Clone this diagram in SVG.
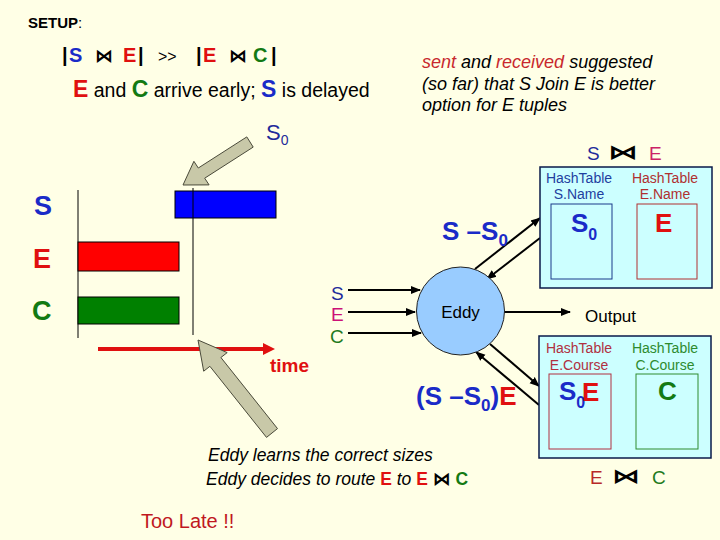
<svg xmlns="http://www.w3.org/2000/svg" width="720" height="540" viewBox="0 0 720 540">
<defs>
<style>
text{font-family:"Liberation Sans",Arial,sans-serif;}
.bt{font-family:"DejaVu Sans",sans-serif;font-weight:bold;}
.b{font-weight:bold;}
.it{font-style:italic;}
.blue{fill:#1A2BC8;}
.red{fill:#E01010;}
.grn{fill:#137A13;}
.navy{fill:#1F2B9B;}
.ht{font-size:14px;text-anchor:middle;}
.conn{stroke:#000;stroke-width:2;fill:none;}
.gray{fill:#C8C8A8;stroke:#4A4A3A;stroke-width:1;}
.outer{fill:#CCFFFF;stroke:#0A1A4A;stroke-width:1.5;}
</style>
<marker id="ah" viewBox="0 0 10 10" refX="9" refY="5" markerWidth="5" markerHeight="5" orient="auto" markerUnits="strokeWidth">
<path d="M0,1 L10,5 L0,9 Z" fill="#000"/>
</marker>
</defs>
<rect width="720" height="540" fill="#FFFFE6"/>

<g id="setup">
<text x="28" y="28" font-size="15"><tspan class="b">SETUP</tspan>:</text>
<text y="62" font-size="20">
<tspan x="62" class="b">|</tspan><tspan x="69" class="b blue">S</tspan><tspan x="95" class="bt" font-size="18">⋈</tspan><tspan x="123" class="b red">E</tspan><tspan x="138" class="b">|</tspan><tspan x="158" font-size="16">&gt;&gt;</tspan><tspan x="196" class="b">|</tspan><tspan x="203" class="b red">E</tspan><tspan x="229" class="bt" font-size="18">⋈</tspan><tspan x="253" class="b grn">C</tspan><tspan x="271" class="b">|</tspan>
</text>
<text x="73" y="97" font-size="19.5"><tspan class="b red" font-size="23">E</tspan> and <tspan class="b grn" font-size="23">C</tspan> arrive early; <tspan class="b blue" font-size="23">S</tspan> is delayed</text>
</g>

<g id="note" class="it" font-size="18">
<text x="422" y="68"><tspan fill="#C8282D">sent</tspan> and <tspan fill="#C8282D">received</tspan> suggested</text>
<text x="422" y="90">(so far) that S Join E is better</text>
<text x="422" y="111">option for E tuples</text>
</g>

<g id="s0-label">
<text x="266" y="140" font-size="22" class="navy">S<tspan font-size="14" dy="5">0</tspan></text>
</g>

<g id="timeline">
<text x="34" y="215" font-size="27" class="b blue">S</text>
<text x="33" y="268" font-size="27" class="b red">E</text>
<text x="32" y="320" font-size="27" class="b grn">C</text>
<line x1="78" y1="190" x2="78" y2="338" stroke="#000" stroke-width="1"/>
<rect x="175" y="191" width="101" height="27" fill="#0000FF" stroke="#000" stroke-width="1"/>
<rect x="78" y="242" width="101" height="29" fill="#FF0000" stroke="#000" stroke-width="1"/>
<rect x="78" y="297" width="101" height="27" fill="#008000" stroke="#000" stroke-width="1"/>
<line x1="193" y1="188" x2="193" y2="335" stroke="#000" stroke-width="1"/>
<line x1="98" y1="349" x2="264" y2="349" stroke="#E01010" stroke-width="4"/>
<polygon points="275,349 263,343 263,355" fill="#E01010"/>
<text x="270" y="372" font-size="19" class="b red">time</text>
</g>

<g id="pointer-top">
<polygon class="gray" points="246.8,136.9 198.3,168.0 193.9,161.3 183,185 209.1,184.9 204.7,178.2 253.2,147.1"/>
</g>
<g id="pointer-bottom">
<polygon class="gray" points="198,340 227.2,352.6 220.9,357.5 277.5,428.6 266.5,437.4 209.9,366.3 203.7,371.2"/>
</g>

<g id="sec-labels" font-size="19">
<text x="331" y="300" fill="#1F2B9B">S</text>
<text x="331" y="321" fill="#CC1177">E</text>
<text x="330" y="343" fill="#1E7A1E">C</text>
</g>

<g id="connectors">
<line class="conn" x1="348" y1="290" x2="420" y2="290" marker-end="url(#ah)"/>
<line class="conn" x1="348" y1="312" x2="415" y2="312" marker-end="url(#ah)"/>
<line class="conn" x1="348" y1="333" x2="421" y2="333" marker-end="url(#ah)"/>
<line class="conn" x1="504" y1="312" x2="570" y2="312" marker-end="url(#ah)"/>
<line class="conn" x1="475" y1="269" x2="540" y2="218" marker-end="url(#ah)"/>
<line class="conn" x1="540" y1="238" x2="487" y2="279" marker-end="url(#ah)"/>
<line class="conn" x1="490" y1="344" x2="539" y2="386" marker-end="url(#ah)"/>
<line class="conn" x1="539" y1="405" x2="476" y2="352" marker-end="url(#ah)"/>
</g>

<g id="eddy">
<circle cx="460.5" cy="311" r="44" fill="#99CCFF" stroke="#222" stroke-width="1"/>
<text x="460.5" y="318" font-size="17" text-anchor="middle">Eddy</text>
</g>

<g id="output">
<text x="585" y="322" font-size="17">Output</text>
</g>

<g id="s-minus-s0">
<text x="442" y="240" font-size="26" class="b blue">S –S<tspan font-size="17" dy="6">0</tspan></text>
</g>

<g id="s-minus-s0-e">
<text x="416" y="405" font-size="26" class="b blue">(S –S<tspan font-size="17" dy="6">0</tspan><tspan dy="-6">)</tspan><tspan class="red">E</tspan></text>
</g>

<g id="join-se">
<text x="587" y="160" font-size="19" fill="#1F2B9B">S</text>
<text x="608" y="159" font-size="20" class="bt" textLength="30" lengthAdjust="spacingAndGlyphs">⋈</text>
<text x="649" y="160" font-size="19" fill="#CC2266">E</text>
<rect class="outer" x="540" y="167" width="172" height="121"/>
<text class="ht" x="579" y="183" fill="#1F3F9F">HashTable</text>
<text class="ht" x="579" y="199" fill="#1F3F9F">S.Name</text>
<text class="ht" x="665" y="183" fill="#B03030">HashTable</text>
<text class="ht" x="665" y="199" fill="#B03030">E.Name</text>
<rect x="551" y="204" width="61" height="75" fill="none" stroke="#1A3A8A" stroke-width="1"/>
<rect x="637" y="204" width="60" height="75" fill="none" stroke="#B03030" stroke-width="1"/>
<text x="571" y="232" font-size="26" class="b blue">S<tspan font-size="16" dy="8">0</tspan></text>
<text x="655" y="232" font-size="26" class="b red">E</text>
</g>

<g id="join-ec">
<rect class="outer" x="539" y="336" width="172" height="122"/>
<text class="ht" x="579" y="353" fill="#B03040">HashTable</text>
<text class="ht" x="579" y="370" fill="#B03040">E.Course</text>
<text class="ht" x="665" y="353" fill="#2E8B2E">HashTable</text>
<text class="ht" x="665" y="370" fill="#2E8B2E">C.Course</text>
<rect x="549" y="374" width="62" height="75" fill="none" stroke="#B03040" stroke-width="1"/>
<rect x="636" y="374" width="62" height="75" fill="none" stroke="#2E8B2E" stroke-width="1"/>
<text x="559" y="400" font-size="26" class="b blue">S<tspan font-size="16" dy="8">0</tspan></text>
<text x="582" y="401" font-size="26" class="b red">E</text>
<text x="658" y="400" font-size="26" class="b grn">C</text>
<text x="590" y="484" font-size="19" fill="#B82828">E</text>
<text x="612" y="483" font-size="20" class="bt" textLength="28" lengthAdjust="spacingAndGlyphs">⋈</text>
<text x="652" y="484" font-size="19" fill="#1E7A1E">C</text>
</g>

<g id="caption" class="it" font-size="17.5">
<text x="208" y="461">Eddy learns the correct sizes</text>
<text x="206" y="485">Eddy decides to route <tspan class="b red" font-style="normal">E</tspan> to <tspan class="b red" font-style="normal">E</tspan> <tspan class="bt" font-style="normal" font-size="18">⋈</tspan> <tspan class="b grn" font-style="normal">C</tspan></text>
</g>

<g id="too-late">
<text x="141" y="528" font-size="20" fill="#C0181E">Too Late !!</text>
</g>
</svg>
